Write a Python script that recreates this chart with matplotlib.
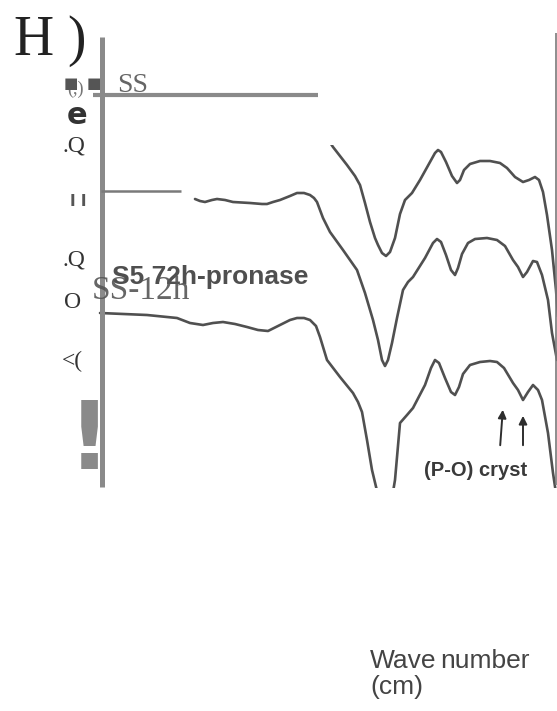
import matplotlib
matplotlib.use("Agg")
import matplotlib.pyplot as plt
from matplotlib.patches import Rectangle

# traced spectra (x = position along wavenumber axis, y = offset absorbance, both in figure pixels)
x_ss = [325, 333, 340, 347, 355, 360, 365, 370, 375, 378, 382, 386, 390, 395, 400, 405, 412, 420,
        430, 435, 438, 441, 446, 452, 457, 460, 464, 470, 480, 490, 500, 507, 515, 523, 529, 535,
        539, 543, 547, 552, 556, 559]
y_ss = [135, 147, 156, 165, 176, 185, 203, 222, 238, 245, 253, 256, 252, 238, 214, 200, 193, 180,
        162, 153, 150, 152, 162, 176, 183, 180, 170, 164, 161, 161, 163, 168, 177, 182, 180, 177,
        180, 192, 215, 250, 290, 330]

x_pronase = [195, 200, 205, 212, 217, 225, 233, 250, 262, 267, 273, 280, 290, 297, 304, 310, 314,
             317, 323, 330, 343, 357, 365, 373, 378, 382, 385, 388, 392, 397, 403, 408, 413, 425,
             433, 437, 441, 446, 451, 455, 458, 462, 468, 475, 487, 497, 505, 513, 518, 523, 527,
             533, 537, 542, 548, 552, 557]
y_pronase = [199, 201, 202, 200, 199, 200, 202, 203, 204, 204, 202, 200, 196, 193, 193, 195, 198,
             202, 218, 232, 250, 270, 293, 320, 340, 360, 366, 360, 343, 318, 290, 282, 277, 258,
             243, 239, 242, 255, 270, 275, 268, 254, 243, 239, 238, 240, 246, 260, 267, 277, 272,
             261, 262, 275, 300, 333, 360]

x_12h = [100, 147, 177, 190, 203, 213, 223, 235, 247, 258, 268, 274, 280, 290, 297, 304, 310, 316,
         320, 327, 340, 353, 358, 362, 367, 372, 378, 384, 390, 395, 400, 407, 413, 425, 431, 435,
         439, 445, 451, 455, 459, 463, 470, 480, 490, 497, 504, 513, 518, 523, 528, 533, 538, 542,
         548, 553, 557]
y_12h = [313, 315, 318, 323, 325, 323, 322, 324, 327, 330, 331, 328, 325, 320, 318, 318, 320, 326,
         337, 360, 377, 393, 402, 412, 440, 470, 495, 515, 510, 480, 423, 415, 408, 385, 368, 360,
         363, 378, 392, 395, 387, 374, 365, 362, 361, 362, 368, 383, 390, 400, 392, 385, 390, 400,
         433, 473, 500]

# (P-O) cryst arrows: tail -> head
arrows = [((500, 448), (503, 407)), ((523, 448), (523, 413))]

# garbled y-axis label pieces (text, x, y, size, family, weight, colour)
ylabel_bits = [
    ("(,)", 75, 89, 13, "Liberation Serif", "normal", "#777777"),
    ("■", 71, 83, 11, "DejaVu Sans", "normal", "#555555"),
    ("■", 94, 83, 11, "DejaVu Sans", "normal", "#555555"),
    ("e", 77, 116, 22, "DejaVu Sans", "bold", "#333333"),
    (".Q", 74, 146, 17, "Liberation Serif", "normal", "#333333"),
    ("I I", 78, 201, 11, "DejaVu Sans", "bold", "#555555"),
    (".Q", 74, 260, 17, "Liberation Serif", "normal", "#333333"),
    ("O", 73, 303, 17, "Liberation Serif", "normal", "#333333"),
    ("<(", 72, 361, 17, "Liberation Serif", "normal", "#333333"),
]

fig = plt.figure(figsize=(5.57, 7.11), dpi=100)
ax = fig.add_axes([0, 0, 1, 1])
ax.set_xlim(0, 557)
ax.set_ylim(711, 0)
ax.axis("off")

# scanned spectrum window
clip = Rectangle((90, 145), 470, 343, transform=ax.transData)
for xs, ys in [(x_ss, y_ss), (x_pronase, y_pronase), (x_12h, y_12h)]:
    ln, = ax.plot(xs, ys, color="#505050", lw=1.9, solid_joinstyle="round",
                  solid_capstyle="round")
    ln.set_clip_path(clip)

for (x0, y0), (x1, y1) in arrows:
    ax.annotate("", xy=(x1, y1), xytext=(x0, y0),
                arrowprops=dict(arrowstyle="-|>", color="#2e2e2e", lw=1.4, mutation_scale=12))
ax.text(476, 470, "(P-O) cryst", ha="center", va="center", fontsize=14.5, fontweight="bold",
        family="Liberation Sans", color="#3a3a3a")

# axis lines
ax.plot([102, 102], [37, 487], color="#8a8a8a", lw=3.6, solid_capstyle="butt")
ax.plot([93, 318], [95, 95], color="#8a8a8a", lw=3.0, solid_capstyle="butt")
ax.plot([101, 181], [191, 191], color="#7a7a7a", lw=1.8, solid_capstyle="butt")
ax.plot([556, 556], [33, 485], color="#7a7a7a", lw=1.2, solid_capstyle="butt")

# labels
ax.text(14, 55, "H )", ha="left", va="baseline", fontsize=40, family="Liberation Serif",
        color="#222222")
ax.text(117, 92, "SS", ha="left", va="baseline", fontsize=20, family="Liberation Serif",
        color="#666666")
ax.text(112, 277, "S5 72h-pronase", ha="left", va="center", fontsize=19, fontweight="bold",
        family="Liberation Sans", color="#3c3c3c", alpha=0.9)
ax.text(92, 299, "SS-12h", ha="left", va="baseline", fontsize=24, family="Liberation Serif",
        color="#555555", alpha=0.9)

for txt, x, y, size, fam, wt, col in ylabel_bits:
    ax.text(x, y, txt, ha="center", va="center", fontsize=size, family=fam, fontweight=wt,
            color=col)
ax.text(89, 443, "!", ha="center", va="center", fontsize=68, fontweight="bold",
        family="DejaVu Sans", color="#8a8a8a")

ax.text(370, 668, "Wave", ha="left", va="baseline", fontsize=19, family="Liberation Sans",
        color="#444444")
ax.text(440, 668, "number", ha="left", va="baseline", fontsize=19, family="Liberation Sans",
        color="#444444")
ax.text(370, 694, "(cm)", ha="left", va="baseline", fontsize=19, family="Liberation Sans",
        color="#444444")

fig.savefig("out.png", dpi=100)
